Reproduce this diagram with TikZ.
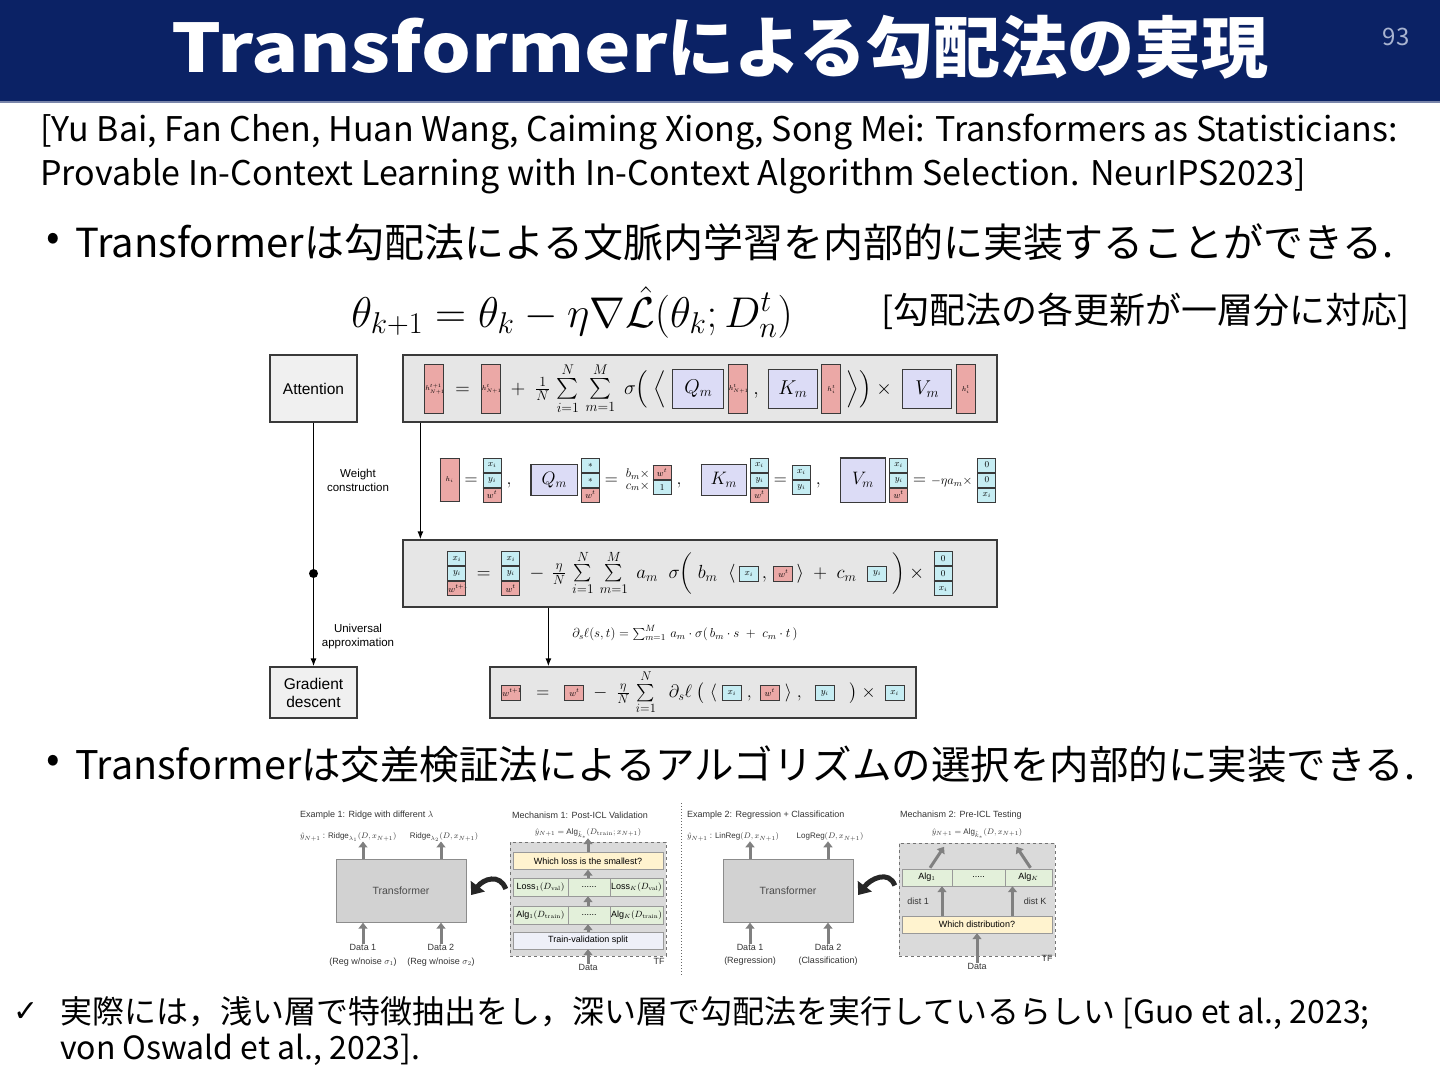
\RequirePackage{fix-cm}
\documentclass[tikz,border=0pt]{standalone}
\usepackage{amsmath}
\usepackage[no-math]{fontspec}
\usepackage{xcolor}
\usetikzlibrary{positioning,arrows.meta,calc}

\newfontfamily\jp{Noto Sans CJK JP}
\newfontfamily\arialf{Liberation Sans}
\newfontfamily\symf{DejaVu Sans}

\definecolor{navy}{HTML}{0B2265}
\definecolor{pgnum}{HTML}{A9B4D0}
\definecolor{pinkc}{HTML}{EBA8A6}
\definecolor{cyanc}{HTML}{C6EDF3}
\definecolor{lavc}{HTML}{DCDCF6}
\definecolor{boxc}{HTML}{E6E6E6}
\definecolor{edgec}{HTML}{3A3A3A}
\definecolor{tfgray}{HTML}{D2D2D2}
\definecolor{dashgray}{HTML}{DADADA}
\definecolor{yel}{HTML}{FFF3CF}
\definecolor{grn}{HTML}{E3F0DA}
\definecolor{splitc}{HTML}{EEF0F8}

% tall pink vector, stacked cells, small squares, weight boxes
\newcommand{\hv}[2][48pt]{{\setlength{\fboxsep}{0pt}\setlength{\fboxrule}{1pt}%
  \fcolorbox{edgec}{pinkc}{\parbox[c][#1][c]{18pt}{\centering\fontsize{7}{7}\selectfont$#2$}}}}
\newcommand{\cv}[2]{{\setlength{\fboxsep}{0pt}\setlength{\fboxrule}{1pt}%
  \fcolorbox{edgec}{#1}{\parbox[c][13pt][c]{17pt}{\centering\fontsize{9}{9}\selectfont$#2$}}}}
\newcommand{\sq}[2]{{\setlength{\fboxsep}{0pt}\setlength{\fboxrule}{1pt}%
  \fcolorbox{edgec}{#1}{\parbox[c][14pt][c]{18pt}{\centering\fontsize{9}{9}\selectfont$#2$}}}}
\newcommand{\vtri}[3]{\vcenter{\offinterlineskip\hbox{#1}\hbox{#2}\hbox{#3}}}
\newcommand{\vduo}[2]{\vcenter{\offinterlineskip\hbox{#1}\hbox{#2}}}
\newcommand{\mbx}[3]{{\setlength{\fboxsep}{0pt}\setlength{\fboxrule}{1.2pt}%
  \fcolorbox{edgec}{lavc}{\parbox[c][#2][c]{#1}{\centering$#3$}}}}
\newcommand{\gap}{\hspace{16pt}}

\begin{document}
\begin{tikzpicture}[x=1pt, y=-1pt,
    txt/.style={inner sep=0pt, font=\jp\fontsize{#1}{#1}\selectfont},
    eqbox/.style={draw=edgec, line width=1.2pt, fill=boxc, inner sep=0pt},
    stepbox/.style={draw=edgec, line width=1.2pt, fill=boxc!60!white, inner sep=0pt, align=center,
      minimum width=87pt, font=\arialf\fontsize{15.5}{18}\selectfont},
    lbl/.style={inner sep=0pt, align=center, font=\arialf\fontsize{11.5}{14}\selectfont},
    arr/.style={line width=1.4pt, -{Latex[length=8pt,width=6pt]}},
    fl/.style={inner sep=0pt, text=black!80, font=\arialf\fontsize{9}{11}\selectfont, align=center},
    outl/.style={fl, font=\arialf\fontsize{8}{10}\selectfont},
    tfbox/.style={draw=black!45, fill=tfgray, minimum width=130pt, minimum height=63pt, inner sep=0pt,
      font=\arialf\fontsize{10.5}{12}\selectfont, text=black!70},
    tfarea/.style={draw=black!55, dashed, fill=dashgray, inner sep=0pt},
    ycell/.style={draw=black!40, fill=yel, minimum height=17pt, inner sep=0pt, font=\arialf\fontsize{9}{10}\selectfont},
    gcell/.style={draw=black!40, fill=grn, minimum height=18pt, inner sep=0pt, font=\arialf\fontsize{9}{10}\selectfont},
    garr/.style={draw=black!50, line width=3pt, -{Triangle[length=6pt,width=9pt]}},
    bigarr/.style={draw=black!85, line width=5pt, -{Triangle[length=11pt,width=17pt]}}]
  \useasboundingbox (0,0) rectangle (1440,1080);

  % title bar
  \fill[navy] (0,0) rectangle (1440,101);
  \fill[navy!55!white] (0,101) rectangle (1440,103);
  \node[txt=67, font=\jp\bfseries\fontsize{67}{70}\selectfont, text=white] (title) at (720,47)
    {\scalebox{1.17}[1]{Transformer}による勾配法の実現};
  \node[txt=24, text=pgnum] (pg) at (1396,37) {93};

  % reference and first bullet
  \node[txt=34, anchor=west] (ref1) at (40,132) {[Yu Bai, Fan Chen, Huan Wang, Caiming Xiong, Song Mei: Transformers as Statisticians:};
  \node[txt=34, anchor=west] (ref2) at (40,176) {Provable In-Context Learning with In-Context Algorithm Selection. NeurIPS2023]};
  \node[txt=40] (dot1) at (53,242) {•};
  \node[txt=40, anchor=west] (bul1) at (75,242) {Transformerは勾配法による文脈内学習を内部的に実装することができる.};
  \node[inner sep=0pt, font=\fontsize{43}{46}\selectfont] (upd) at (572,312)
    {$\theta_{k+1} = \theta_k - \eta\nabla\hat{\mathcal{L}}(\theta_k; D_n^t)$};
  \node[txt=36, anchor=west] (note) at (881,311) {[勾配法の各更新が一層分に対応]};

  % top figure
  \node[stepbox, minimum height=67pt] (att) at (313.5,388.5) {Attention};
  \node[stepbox, minimum height=51pt] (gd) at (313.5,692.5) {Gradient\\descent};
  \node[eqbox, minimum width=594pt, minimum height=67pt, font=\fontsize{20}{24}\selectfont] (box1) at (700,388.5)
    {$\hv{h^{t+1}_{N+1}}\;=\;\hv{h^{t}_{N+1}}\;+\;\frac{1}{N}\,\sum\limits_{i=1}^{N}\,\sum\limits_{m=1}^{M}\;\sigma\Big(\;\Big\langle\;
      \mbx{50pt}{38pt}{Q_m}\,\hv{h^t_{N+1}}\;,\;\mbx{48pt}{38pt}{K_m}\,\hv{h^t_i}\;\Big\rangle\Big)\times\;
      \mbx{48pt}{38pt}{V_m}\,\hv{h^t_i}$};
  \node[inner sep=0pt, font=\fontsize{18}{22}\selectfont] (wc) at (718,480)
    {$\hv[42pt]{h_i}=\vtri{\cv{cyanc}{x_i}}{\cv{cyanc}{y_i}}{\cv{pinkc}{w^t}}\;,\gap
      \mbx{45pt}{30pt}{Q_m}\,\vtri{\cv{cyanc}{*}}{\cv{cyanc}{*}}{\cv{pinkc}{w^t}}=
      \begin{smallmatrix}b_m\times\\ c_m\times\end{smallmatrix}\vduo{\cv{pinkc}{w^t}}{\cv{cyanc}{1}}\;,\gap
      \mbx{44pt}{30pt}{K_m}\,\vtri{\cv{cyanc}{x_i}}{\cv{cyanc}{y_i}}{\cv{pinkc}{w^t}}=\vduo{\cv{cyanc}{x_i}}{\cv{cyanc}{y_i}}\;,\gap
      \mbx{44pt}{43pt}{V_m}\,\vtri{\cv{cyanc}{x_i}}{\cv{cyanc}{y_i}}{\cv{pinkc}{w^t}}={\scriptstyle-\eta a_m\times}\;
      \vtri{\cv{cyanc}{0}}{\cv{cyanc}{0}}{\cv{cyanc}{x_i}}$};
  \node[eqbox, minimum width=594pt, minimum height=67pt, font=\fontsize{19}{22}\selectfont] (box2) at (700,573.5)
    {$\vtri{\cv{cyanc}{x_i}}{\cv{cyanc}{y_i}}{\cv{pinkc}{w^{t+1}}}\;=\;\vtri{\cv{cyanc}{x_i}}{\cv{cyanc}{y_i}}{\cv{pinkc}{w^t}}
      \;-\,\frac{\eta}{N}\,\sum\limits_{i=1}^{N}\,\sum\limits_{m=1}^{M}\;a_m\;\;\sigma\bigg(\;b_m\;\;\langle\,\sq{cyanc}{x_i}\,,\,\sq{pinkc}{w^t}\,\rangle
      \;+\;c_m\;\;\sq{cyanc}{y_i}\;\bigg)\times\;\vtri{\cv{cyanc}{0}}{\cv{cyanc}{0}}{\cv{cyanc}{x_i}}$};
  \node[inner sep=0pt, font=\fontsize{13}{15}\selectfont] (dl) at (685,633)
    {$\partial_s\ell(s,t) = \sum_{m=1}^{M}\,a_m\cdot\sigma(\,b_m\cdot s\;+\;c_m\cdot t\,)$};
  \node[eqbox, minimum width=426pt, minimum height=51pt, font=\fontsize{18}{20}\selectfont] (box3) at (703,692.5)
    {$\sq{pinkc}{w^{t+1}}\;\;=\;\;\sq{pinkc}{w^t}\;-\;\frac{\eta}{N}\,\sum\limits_{i=1}^{N}\;\;\partial_s\ell\;\big(\;\langle\;\sq{cyanc}{x_i}\;,
      \;\sq{pinkc}{w^t}\;\rangle\;,\;\;\sq{cyanc}{y_i}\;\;\;\big)\times\;\sq{cyanc}{x_i}$};
  \node[lbl] (wlab) at (358,480) {Weight\\construction};
  \node[lbl] (ulab) at (358,637) {Universal\\approximation};

  \draw[arr] (att.south) -- (gd.north);
  \fill (att.south |- box2.west) circle (4.5pt);
  \draw[arr] ($(box1.south west)+(18,0)$) -- ($(box2.north west)+(18,0)$);
  \coordinate (c2) at ($(box2.south west)+(146,0)$);
  \draw[arr] (c2) -- (c2 |- box3.north);

  % second bullet
  \node[txt=40] (dot2) at (53,764) {•};
  \node[txt=39.5, anchor=west] (bul2) at (75,764) {Transformerは交差検証法によるアルゴリズムの選択を内部的に実装できる.};

  % bottom figure, left half
  \node[fl, anchor=west] (ex1) at (300,815) {Example 1: Ridge with different $\lambda$};
  \node[outl, anchor=west] (o11) at (300,837) {$\hat y_{N+1}$ : Ridge$_{\lambda_1}(D, x_{N+1})$};
  \node[outl] (o12) at (444,837) {Ridge$_{\lambda_2}(D, x_{N+1})$};
  \node[tfbox] (tf1) at (401,891) {Transformer};
  \node[fl] (d1) at (363,947) {Data 1};
  \node[fl] (d1n) at (363,962) {(Reg w/noise $\sigma_1$)};
  \node[fl] (d2) at (441,947) {Data 2};
  \node[fl] (d2n) at (441,962) {(Reg w/noise $\sigma_2$)};
  \draw[garr] (d1.north) -- (d1.north |- tf1.south);
  \draw[garr] (d2.north) -- (d2.north |- tf1.south);
  \draw[garr] (d1 |- tf1.north) -- (d1 |- o11.south);
  \draw[garr] (d2 |- tf1.north) -- (d2 |- o12.south);

  \node[fl, anchor=west] (mc1) at (512,815) {Mechanism 1: Post-ICL Validation};
  \node[outl] (mo1) at (588,833) {$\hat y_{N+1} =$ Alg$_{\hat k_*}(D_{\mathrm{train}}; x_{N+1})$};
  \node[tfarea, minimum width=156pt, minimum height=114pt] (tfa1) at (588,899) {};
  \node[fl] (tfl1) at (659,961) {TF};
  \node[ycell, minimum width=150pt] (wl) at (588,861) {Which loss is the smallest?};
  \node[gcell, minimum width=55pt] (ls1) at (540.5,887) {Loss$_1(D_{\mathrm{val}})$};
  \node[gcell, minimum width=42pt] (lsd) at (589,887) {......};
  \node[gcell, minimum width=53pt] (lsk) at (636.5,887) {Loss$_K(D_{\mathrm{val}})$};
  \node[gcell, minimum width=55pt] (al1) at (540.5,915) {Alg$_1(D_{\mathrm{train}})$};
  \node[gcell, minimum width=42pt] (ald) at (589,915) {......};
  \node[gcell, minimum width=53pt] (alk) at (636.5,915) {Alg$_K(D_{\mathrm{train}})$};
  \node[ycell, fill=splitc, minimum width=150pt] (sp) at (588,940.5) {Train-validation split};
  \node[fl] (dat1) at (588,967) {Data};
  \draw[garr] (dat1.north) -- (sp.south);
  \draw[garr] (sp.north) -- (sp.north |- al1.south);
  \draw[garr] (sp.north |- al1.north) -- (sp.north |- ls1.south);
  \draw[garr] (sp.north |- ls1.north) -- (wl.south);
  \draw[garr] (wl.north) -- (mo1.south);
  \draw[bigarr] ($(tfa1.west)+(-4,-10)$) .. controls +(-6,-16) and +(12,-16) .. ([shift={(5,4)}]tf1.east);

  \draw[dotted, line width=1pt, black!60] (681,803) -- (681,975);

  % bottom figure, right half
  \node[fl, anchor=west] (ex2) at (687,815) {Example 2: Regression + Classification};
  \node[outl, anchor=west] (o21) at (687,837) {$\hat y_{N+1}$ : LinReg$(D, x_{N+1})$};
  \node[outl] (o22) at (830,837) {LogReg$(D, x_{N+1})$};
  \node[tfbox] (tf2) at (788,891) {Transformer};
  \node[fl] (e1) at (750,947) {Data 1};
  \node[fl] (e1n) at (750,961) {(Regression)};
  \node[fl] (e2) at (828,947) {Data 2};
  \node[fl] (e2n) at (828,961) {(Classification)};
  \draw[garr] (e1.north) -- (e1.north |- tf2.south);
  \draw[garr] (e2.north) -- (e2.north |- tf2.south);
  \draw[garr] (e1 |- tf2.north) -- (e1 |- o21.south);
  \draw[garr] (e2 |- tf2.north) -- (e2 |- o22.south);

  \node[fl, anchor=west] (mc2) at (900,815) {Mechanism 2: Pre-ICL Testing};
  \node[outl] (mo2) at (977,833) {$\hat y_{N+1} =$ Alg$_{\hat k_*}(D, x_{N+1})$};
  \node[tfarea, minimum width=156pt, minimum height=113pt] (tfa2) at (977,899.5) {};
  \node[fl] (tfl2) at (1047,958) {TF};
  \node[gcell, minimum width=50pt, minimum height=17pt] (ag1) at (927,877.5) {Alg$_1$};
  \node[gcell, minimum width=53pt, minimum height=17pt] (agd) at (978.5,877.5) {.....};
  \node[gcell, minimum width=47pt, minimum height=17pt] (agk) at (1028.5,877.5) {Alg$_K$};
  \node[ycell, minimum width=150pt] (wd) at (977,924.5) {Which distribution?};
  \node[fl] (ds1) at (918,901) {dist 1};
  \node[fl] (dsk) at (1035,901) {dist K};
  \node[fl] (dat2) at (977,966) {Data};
  \coordinate (p1) at ($(ag1.south)+(15,0)$);
  \coordinate (pk) at ($(agk.south)+(-16,0)$);
  \draw[garr] (dat2.north) -- (wd.south);
  \draw[garr] (p1 |- wd.north) -- (p1);
  \draw[garr] (pk |- wd.north) -- (pk);
  \draw[garr] ($(ag1.north)+(3,-1)$) -- ++(14,-21);
  \draw[garr] ($(agk.north)+(2,-1)$) -- ++(-14,-21);
  \draw[bigarr] ($(tfa2.west)+(-4,-14)$) .. controls +(-6,-16) and +(12,-16) .. ([shift={(5,4)}]tf2.east);

  % closing remark
  \node[inner sep=0pt, font=\symf\fontsize{30}{32}\selectfont] (chk) at (26,1012) {✓};
  \node[txt=32, anchor=west] (rem1) at (60,1013) {実際には，浅い層で特徴抽出をし，深い層で勾配法を実行しているらしい [Guo et al., 2023;};
  \node[txt=32, anchor=west] (rem2) at (60,1050) {von Oswald et al., 2023].};
\end{tikzpicture}
\end{document}
